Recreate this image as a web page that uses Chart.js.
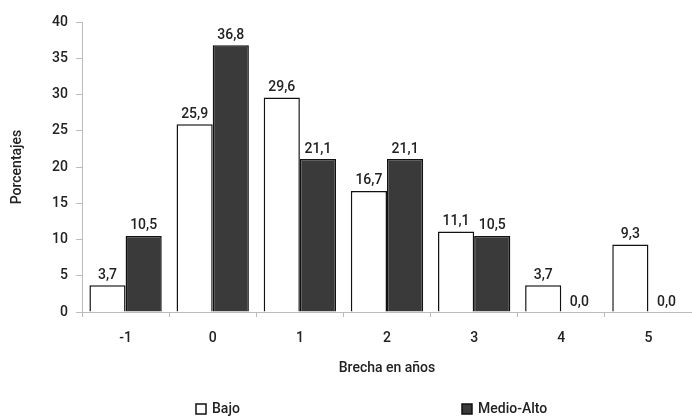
<!DOCTYPE html>
<html>
<head>
<meta charset="utf-8">
<script src="https://cdn.jsdelivr.net/npm/chart.js@4/dist/chart.umd.min.js"></script>
<style>
	html, body { margin: 0; padding: 0; background: #fff; }
	#wrap { width: 692px; height: 416px; }
</style>
</head>
<body>
<div id="wrap"><canvas id="chart" width="692" height="416"></canvas></div>
<script>
var categories = ["-1", "0", "1", "2", "3", "4", "5"];
var bajo = [3.7, 25.9, 29.6, 16.7, 11.1, 3.7, 9.3];
var medioAlto = [10.5, 36.8, 21.1, 21.1, 10.5, 0.0, 0.0];
var yTicks = [0, 5, 10, 15, 20, 25, 30, 35, 40];

var FONT = "Roboto, 'Liberation Sans', Arial, sans-serif";

// value labels above each bar, decimal comma
var barLabels = {
	id: "barLabels",
	afterDatasetsDraw: function(chart) {
		var ctx = chart.ctx;
		ctx.save();
		ctx.font = "500 14px " + FONT;
		ctx.fillStyle = "#222";
		ctx.textAlign = "center";
		ctx.textBaseline = "bottom";
		chart.data.datasets.forEach(function(ds, i) {
			chart.getDatasetMeta(i).data.forEach(function(bar, j) {
				var txt = ds.data[j].toFixed(1).replace(".", ",");
				ctx.fillText(txt, bar.x, bar.y - 3);
			});
		});
		ctx.restore();
	}
};

// legend spread out under the axis title
var wideLegend = {
	id: "wideLegend",
	afterDraw: function(chart) {
		var ctx = chart.ctx;
		var items = [
			{ x: 196, ds: chart.data.datasets[0] },
			{ x: 462, ds: chart.data.datasets[1] }
		];
		ctx.save();
		ctx.font = "500 14px " + FONT;
		ctx.textBaseline = "middle";
		items.forEach(function(it) {
			ctx.fillStyle = it.ds.backgroundColor;
			ctx.strokeStyle = "#111";
			ctx.lineWidth = 1.5;
			ctx.fillRect(it.x, 404, 10, 10);
			ctx.strokeRect(it.x, 404, 10, 10);
			ctx.fillStyle = "#222";
			ctx.fillText(it.ds.label, it.x + 16, 409);
		});
		ctx.restore();
	}
};

new Chart(document.getElementById("chart"), {
	type: "bar",
	data: {
		labels: categories,
		datasets: [{
			label: "Bajo",
			data: bajo,
			backgroundColor: "#ffffff",
			borderColor: "#111111",
			borderWidth: 1.5,
			barPercentage: 1,
			categoryPercentage: 0.83
		}, {
			label: "Medio-Alto",
			data: medioAlto,
			backgroundColor: "#3a3a3a",
			borderColor: "#111111",
			borderWidth: 1.5,
			barPercentage: 1,
			categoryPercentage: 0.83
		}]
	},
	options: {
		responsive: false,
		animation: false,
		layout: { padding: { top: 22, right: 0, bottom: 29, left: 0 } },
		plugins: {
			legend: { display: false },
			tooltip: { enabled: false }
		},
		scales: {
			x: {
				offset: true,
				grid: {
					offset: true,
					drawOnChartArea: false,
					color: "#bbb",
					tickLength: 5
				},
				border: { color: "#bbb" },
				ticks: {
					color: "#222",
					font: { family: FONT, size: 14, weight: "500" },
					padding: 13
				},
				title: {
					display: true,
					text: "Brecha en años",
					color: "#222",
					font: { family: FONT, size: 14, weight: "500" },
					padding: { top: 10, bottom: 10 }
				},
				afterFit: function(scale) { scale.height = 75; }
			},
			y: {
				min: 0,
				max: 40,
				afterBuildTicks: function(scale) {
					scale.ticks = yTicks.map(function(v) { return { value: v }; });
				},
				grid: {
					drawOnChartArea: false,
					color: "#bbb",
					tickLength: 6
				},
				border: { color: "#bbb" },
				ticks: {
					color: "#222",
					font: { family: FONT, size: 14, weight: "500" },
					padding: 8
				},
				title: {
					display: true,
					text: "Porcentajes",
					color: "#222",
					font: { family: FONT, size: 14, weight: "500" },
					padding: { top: 9, bottom: 9 }
				},
				afterFit: function(scale) { scale.width = 82; }
			}
		}
	},
	plugins: [barLabels, wideLegend]
});
</script>
</body>
</html>
